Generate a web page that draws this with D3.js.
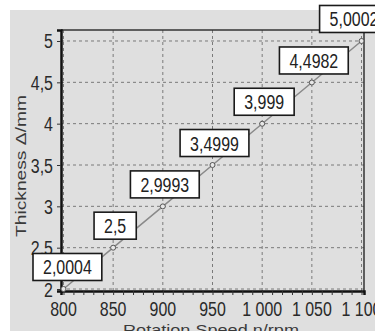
<!DOCTYPE html>
<html><head><meta charset="utf-8">
<script src="https://cdn.jsdelivr.net/npm/d3@7"></script>
<style>
html,body{margin:0;padding:0;background:#fff;}
svg{display:block;}
.num{font-family:"Liberation Sans","Arial",sans-serif;}
</style></head>
<body><svg id="c" width="375" height="331"></svg>
<script>
const speeds = [800, 850, 900, 950, 1000, 1050, 1100];
const thickness = [2.0004, 2.5, 2.9993, 3.4999, 3.999, 4.4982, 5.0002];
const pointLabels = ["2,0004", "2,5", "2,9993", "3,4999", "3,999", "4,4982", "5,0002"];
const xTicks = [800, 850, 900, 950, 1000, 1050, 1100];
const xTickLabels = ["800", "850", "900", "950", "1 000", "1 050", "1 100"];
const yTicks = [2, 2.5, 3, 3.5, 4, 4.5, 5];
const yTickLabels = ["2", "2,5", "3", "3,5", "4", "4,5", "5"];
const xTitle = "Rotation Speed n/rpm";
const yTitle = "Thickness \u0394/mm";

const svg = d3.select("#c");
const W = 375, H = 331;
const L = 61, R = 364, T = 30, B = 291;
const SX = 0.76, FS = 21;

svg.append("rect").attr("x", 10).attr("y", 10).attr("width", W - 10).attr("height", H - 10).attr("fill", "#dfdfdf");

const x = d3.scaleLinear().domain([797.5, 1102.5]).range([L, R]);
const y = d3.scaleLinear().domain([1.976, 5.133]).range([B, T]);

// grid
const g = svg.append("g");
g.selectAll(".vg").data(xTicks).join("line")
  .attr("x1", d => x(d)).attr("x2", d => x(d)).attr("y1", T).attr("y2", B)
  .attr("stroke", "#7a7a7a").attr("stroke-width", 1).attr("stroke-dasharray", "3,3");
g.selectAll(".hg").data(yTicks).join("line")
  .attr("y1", d => y(d)).attr("y2", d => y(d)).attr("x1", L).attr("x2", R)
  .attr("stroke", "#7a7a7a").attr("stroke-width", 1).attr("stroke-dasharray", "3,3");

// frame
svg.append("line").attr("x1", L).attr("x2", R).attr("y1", T).attr("y2", T).attr("stroke", "#333").attr("stroke-width", 1.5);
svg.append("line").attr("x1", R).attr("x2", R).attr("y1", T).attr("y2", B).attr("stroke", "#333").attr("stroke-width", 1.5);

// x axis
const xAxis = d3.axisBottom(x).tickValues(d3.range(800, 1101, 10)).tickSize(4).tickFormat("");
const xa = svg.append("g").attr("transform", `translate(0,${B})`).call(xAxis);
xa.select(".domain").attr("stroke", "#111").attr("stroke-width", 2.5);
xa.selectAll(".tick line").attr("stroke", "#333");
svg.append("g").selectAll("text").data(xTicks).join("text").attr("class", "num")
  .attr("transform", d => `translate(${x(d)},316) scale(${SX},1)`).attr("text-anchor", "middle")
  .attr("font-size", FS).attr("fill", "#2a2a2a")
  .text((d, i) => xTickLabels[i]);

// y axis
const yAxis = d3.axisLeft(y).tickValues(yTicks).tickSize(4).tickFormat("");
const ya = svg.append("g").attr("transform", `translate(${L},0)`).call(yAxis);
ya.select(".domain").attr("stroke", "#111").attr("stroke-width", 2.5);
ya.selectAll(".tick line").attr("stroke", "#333");
svg.append("g").selectAll("text").data(yTicks).join("text").attr("class", "num")
  .attr("transform", d => `translate(53,${y(d) + 7.5}) scale(${SX},1)`).attr("text-anchor", "end")
  .attr("font-size", FS).attr("fill", "#2a2a2a")
  .text((d, i) => yTickLabels[i]);

// titles
svg.append("text").attr("transform", "translate(26,166) rotate(-90)")
  .attr("text-anchor", "middle").attr("font-family", "Liberation Sans, Arial, sans-serif")
  .attr("font-size", 15).attr("fill", "#3a3a3a")
  .attr("textLength", 142).attr("lengthAdjust", "spacingAndGlyphs").text(yTitle);
svg.append("text").attr("x", 211).attr("y", 335)
  .attr("text-anchor", "middle").attr("font-family", "Liberation Sans, Arial, sans-serif")
  .attr("font-size", 15).attr("fill", "#3a3a3a")
  .attr("textLength", 176).attr("lengthAdjust", "spacingAndGlyphs").text(xTitle);

// line
const data = speeds.map((s, i) => ({s, t: thickness[i], lab: pointLabels[i]}));
svg.append("path").datum(data)
  .attr("d", d3.line().x(d => x(d.s)).y(d => y(d.t)))
  .attr("fill", "none").attr("stroke", "#8a8a8a").attr("stroke-width", 1.5);
svg.selectAll(".pt").data(data).join("circle")
  .attr("cx", d => x(d.s)).attr("cy", d => y(d.t)).attr("r", 2.5)
  .attr("fill", "#e8e8e8").attr("stroke", "#555").attr("stroke-width", 1);

// labels
const lg = svg.append("g");
data.forEach(d => {
  const cy = y(d.t);
  const grp = lg.append("g");
  const txt = grp.append("text").attr("class", "num").attr("font-size", FS).attr("fill", "#222")
    .attr("text-anchor", "middle").text(d.lab);
  const w = txt.node().getComputedTextLength() * SX + 20;
  let cx = x(d.s) + 2;
  cx = Math.max(cx, 33 + w / 2);
  cx = Math.min(cx, 354);
  txt.attr("transform", `translate(${cx},${cy - 14.5}) scale(${SX},1)`);
  grp.insert("rect", "text").attr("x", cx - w / 2).attr("y", cy - 35.5).attr("width", w).attr("height", 27)
    .attr("fill", "#fff").attr("stroke", "#1a1a1a").attr("stroke-width", 1.6);
});
</script></body></html>
